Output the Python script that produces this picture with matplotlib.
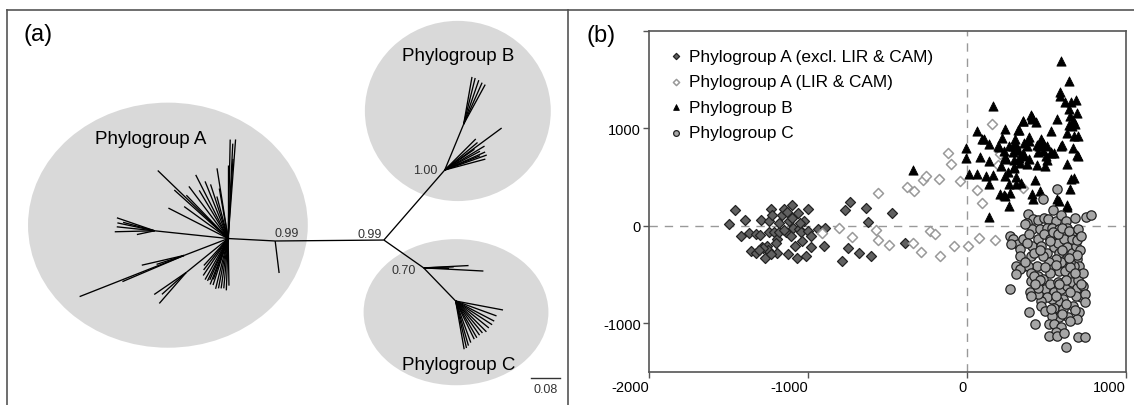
import numpy as np
import matplotlib
matplotlib.use("Agg")
import matplotlib.pyplot as plt
from matplotlib.collections import LineCollection
from matplotlib.lines import Line2D
from matplotlib.patches import Ellipse

plt.rcParams["font.family"] = ["Liberation Sans", "DejaVu Sans"]

# ---------------- panel (a): unrooted tree ----------------
# internal nodes: parent, branch angle (deg), branch length (subst./site)
NODE_NAME = ["a_stem", "A", "B", "B2", "C", "C2", "A_left", "A_dl1", "A_dl2"]
NODE_PARENT = ["root", "a_stem", "root", "B", "root", "C", "A", "A", "A"]
NODE_ANGLE = [180.5, 177, 49, 67.6, -35, -46, 174, 201, 219]
NODE_LEN = [0.30, 0.13, 0.256, 0.137, 0.134, 0.127, 0.204, 0.13, 0.149]

# terminal branches: parent node, angle, length
TIP_PARENT = (
    ["a_stem"]
    + ["A"] * 33
    + ["A_left"] * 6
    + ["A_dl1"] * 4
    + ["A_dl2"] * 3
    + ["B"] * 10
    + ["B2"] * 5
    + ["C"] * 4
    + ["C2"] * 14
)
TIP_ANGLE = (
    [-83]
    + [88.8, 85.7, 87.2, 90, 86.5,
       136, 138, 117, 112, 108, 99, 100, 153, 105, 121, 134, 127, 144,
       236, 240.7, 244, 248.6, 252, 256, 259, 262, 265, 268, 271, 250, 246, 232, 228]
    + [161, 168, 174, 181.4, 192, 165]
    + [201.5, 193, 203, 198]
    + [214.5, 229, 222]
    + [36.4, 31, 24, 19.6, 15, 45, 40, 28, 35, 22]
    + [80, 76, 71, 66, 61.4]
    + [3, -3, 2, -1]
    + [-10.7, -20, -27.5, -33, -39, -45, -50, -55, -60, -64, -70, -74, -77, -80]
)
TIP_LEN = (
    [0.089]
    + [0.273, 0.274, 0.262, 0.204, 0.22,
       0.27, 0.20, 0.197, 0.17, 0.157, 0.196, 0.14, 0.185, 0.12, 0.155, 0.166, 0.18, 0.15,
       0.123, 0.13, 0.13, 0.136, 0.135, 0.143, 0.14, 0.139, 0.138, 0.143, 0.13, 0.12, 0.125, 0.11, 0.10]
    + [0.11, 0.105, 0.105, 0.11, 0.05, 0.09]
    + [0.31, 0.12, 0.185, 0.08]
    + [0.107, 0.113, 0.09]
    + [0.195, 0.128, 0.122, 0.123, 0.116, 0.121, 0.118, 0.11, 0.10, 0.105]
    + [0.132, 0.131, 0.128, 0.125, 0.124]
    + [0.124, 0.165, 0.083, 0.07]
    + [0.133, 0.12, 0.12, 0.12, 0.118, 0.12, 0.115, 0.115, 0.117, 0.117, 0.122, 0.128, 0.133, 0.135]
)

SUPPORT_NODE = ["a_stem", "root", "B", "C"]
SUPPORT_VALUE = ["0.99", "0.99", "1.00", "0.70"]
SUPPORT_OFFSET = [(8.6, 6.1), (-10, 4.7), (-14, 0), (-14.7, -1.4)]

GROUP_NAME = ["Phylogroup A", "Phylogroup B", "Phylogroup C"]
GROUP_CENTER = [(-0.596, 0.041), (0.204, 0.356), (0.199, -0.199)]
GROUP_SIZE = [(0.772, 0.676), (0.513, 0.497), (0.510, 0.403)]
GROUP_LABEL_POS = [(-0.643, 0.279), (0.204, 0.510), (0.207, -0.342)]
SCALE_BAR = 0.08

# ---------------- panel (b): scatter ----------------
A_EXCL_X = [-1494, -1460, -1419, -1399, -1370, -1356, -1329, -1324, -1299, -1295, -1290, -1272,
            -1261, -1247, -1243, -1232, -1227, -1216, -1198, -1193, -1182, -1164, -1148, -1141,
            -1128, -1119, -1110, -1098, -1092, -1080, -1069, -1062, -1058, -1046, -1035, -1024,
            -1012, -1001, -997, -983, -979, -938, -900, -893, -768, -737, -748, -786, -682, -633,
            -622, -603, -470, -393, -1180, -1150, -1100, -1050, -1130, -1200, -1250, -1280,
            -1310, -1230]
A_EXCL_Y = [17, 164, -109, 62, -75, -256, -79, -274, -96, 58, -222, -335,
            -205, -58, 51, 178, 109, -68, -274, -137, -62, 109, 178, -68,
            -291, 51, -109, 212, -27, -205, -335, 137, -34, -68, -154, 51,
            -308, -51, 171, -109, -222, -34, -205, -17, 164, 250, -232, -359, -274, 188,
            41, -308, 137, -178, 30, -40, 80, 30, 140, -180, -250, -230,
            -250, -290]

A_LIR_X = [-914, -805, -723, -572, -562, -558, -491, -379, -333, -275, -258, -341, -291, -233,
           -201, -174, -170, -120, -102, -44, -82, 4, 76, 61, 96, 155, 176, 205, 195, 352]
A_LIR_Y = [-75, -24, -119, -41, -144, 336, -195, 400, 359, 472, 513, -181, -273, -51,
           -85, 479, -311, 752, 633, 456, -211, -208, -129, 370, 230, 1050, -147, 739, 623, 387]

B_X = [591, 640, 585, 588, 614, 654, 686, 643, 648, 690, 665, 564, 680, 640, 660, 528, 596, 673,
       700, 696, 665, 627, 673, 648, 577, 627, 161, 65, 95, 138, -8, -8, 82, 140, 15, 65, 120,
       162, 140, 138, -341, 239, 220, 201, 264, 241, 216, 239, 266, 235, 262, 306, 338, 321, 308,
       323, 291, 296, 296, 327, 354, 407, 432, 392, 375, 354, 388, 439, 464, 479, 481, 449, 495,
       530, 505, 442, 493, 430, 409, 459, 413, 502, 547, 526, 569, 631, 655, 389, 411, 405, 350,
       328, 359, 305, 287, 246, 260, 298, 310, 269, 242, 208, 332, 377, 359, 230, 192, 106, 631,
       592, 689, 452, 475]
B_Y = [1694, 1486, 1370, 1335, 1267, 1273, 1294, 1198, 1126, 1160, 1090, 1096, 1050, 1040, 1020,
       975, 829, 918, 920, 719, 795, 633, 490, 377, 257, 195, 1229, 972, 890, 839, 801, 698, 705,
       668, 528, 528, 513, 520, 428, 89, 572, 993, 903, 808, 815, 705, 610, 513, 428, 315, 205,
       428, 445, 979, 829, 781, 753, 674, 606, 692, 1078, 1113, 1068, 873, 821, 746, 685, 829,
       890, 829, 770, 753, 719, 753, 674, 623, 610, 472, 325, 359, 274, 821, 752, 745, 274, 212,
       479, 916, 1094, 1135, 1077, 985, 855, 889, 821, 691, 557, 598, 506, 342, 308, 325, 650,
       632, 718, 769, 821, 889, 957, 821, 725, 821, 848]

C_X = [563, 475, 542, 382, 418, 445, 486, 509, 558, 592, 622, 678, 750, 780, 377, 407, 457, 502,
       536, 581, 626, 660, 603, 269, 292, 321, 276, 332, 355, 389, 411, 400, 445, 468, 486, 502,
       524, 547, 570, 581, 608, 626, 637, 660, 683, 694, 705, 671, 649, 592, 558, 513, 475, 441,
       536, 581, 615, 660, 712, 310, 359, 382, 400, 445, 400, 475, 490, 524, 547, 570, 592, 626,
       660, 694, 728, 716, 683, 649, 603, 570, 536, 502, 468, 445, 396, 332, 271, 389, 463, 490,
       547, 603, 667, 705, 637, 694, 581, 536, 513, 547, 592, 558, 513, 563, 429, 622, 698, 739,
       445, 423, 310, 540, 570, 660, 694, 377, 423, 366, 332, 366,
       600, 640, 700, 720, 710, 690, 650, 620, 700, 730, 580, 560, 620, 680, 740, 600, 520, 490,
       460, 430, 400, 520, 460, 600, 640, 560, 680, 720, 740, 650, 610, 530]
C_Y = [383, 274, 164, 120, 68, 62, 85, 68, 51, 109, 51, 85, 96, 109, 27, -34, -34, -27,
       -17, -34, -17, -68, -68, -103, -137, -188, -188, -239, -137, -85, -205, -308, -137, -205,
       -85, -274, -137, -222, -171, -274, -137, -222, -308, -274, -205, -342, -410, -410, -376,
       -376, -342, -376, -308, -410, -444, -462, -462, -513, -496, -410, -410, -410, -479, -513,
       -564, -547, -650, -598, -684, -581, -650, -615, -581, -633, -615, -735, -718, -684, -752,
       -769, -752, -735, -769, -701, -684, -444, -650, -882, -821, -872, -838, -855, -821, -889,
       -940, -957, -940, -923, -1009, -1009, -1043, -1087, -1128, -1135, -1009, -1248, -1145,
       -1145, -633, -513, -496, -68, -85, -137, -144, -171, -274, 17, -308, -376,
       -20, -50, -30, -100, -250, -300, -420, -560, -560, -480, -600, -720, -800, -860, -700,
       -900, -480, -420, -560, -600, -720, -160, -250, -250, -330, -400, -480, -600, -780, -980,
       -1100, -850]

SERIES_LABELS = ["Phylogroup A (excl. LIR & CAM)", "Phylogroup A (LIR & CAM)",
                 "Phylogroup B", "Phylogroup C"]
X_TICKS = [-2000, -1000, 0, 1000]
Y_TICKS = [-1000, 0, 1000, 2000]
Y_TICK_LABELS = ["-1000", "0", "1000", ""]

W, H = 1134, 406
FRAME = "#555555"


def node_positions():
    pos = {"root": np.array([0.0, 0.0])}
    for name, parent, ang, length in zip(NODE_NAME, NODE_PARENT, NODE_ANGLE, NODE_LEN):
        a = np.radians(ang)
        pos[name] = pos[parent] + length * np.array([np.cos(a), np.sin(a)])
    return pos


def draw_tree(ax):
    pos = node_positions()
    for (cx, cy), (w, h) in zip(GROUP_CENTER, GROUP_SIZE):
        ax.add_patch(Ellipse((cx, cy), w, h, facecolor="#d9d9d9", edgecolor="none", zorder=0))
    segs = [[pos[p], pos[n]] for n, p in zip(NODE_NAME, NODE_PARENT)]
    for p, ang, length in zip(TIP_PARENT, TIP_ANGLE, TIP_LEN):
        a = np.radians(ang)
        segs.append([pos[p], pos[p] + length * np.array([np.cos(a), np.sin(a)])])
    ax.add_collection(LineCollection(segs, colors="black", linewidths=0.95, zorder=2))

    for node, val, off in zip(SUPPORT_NODE, SUPPORT_VALUE, SUPPORT_OFFSET):
        ax.annotate(val, pos[node], xytext=off, textcoords="offset points",
                    ha="center", va="center", fontsize=9, color="#333333", zorder=3)
    for name, (x, y) in zip(GROUP_NAME, GROUP_LABEL_POS):
        ax.text(x, y, name, ha="center", va="center", fontsize=13.5, zorder=3)

    # scale bar
    x0, y0 = 0.4055, -0.381
    ax.plot([x0, x0 + SCALE_BAR], [y0, y0], color="#333333", lw=1.0)
    ax.text(x0 + SCALE_BAR / 2, y0 - 0.012, f"{SCALE_BAR:.2f}", ha="center", va="top",
            fontsize=9, color="#333333")

    ax.set_xlim(-1.040, 0.508)
    ax.set_ylim(-0.455, 0.6345)
    ax.set_xticks([])
    ax.set_yticks([])
    for side in ("left", "top", "right"):
        ax.spines[side].set_color(FRAME)
        ax.spines[side].set_linewidth(1.2)
    ax.spines["bottom"].set_visible(False)


def draw_scatter(ax):
    ax.axvline(0, color="#999999", lw=1.0, ls=(0, (6, 5)), zorder=0)
    ax.axhline(0, color="#999999", lw=1.0, ls=(0, (6, 5)), zorder=0)
    ax.scatter(A_EXCL_X, A_EXCL_Y, marker="D", s=26, facecolor="#606060",
               edgecolor="#222222", linewidths=0.9, label=SERIES_LABELS[0], zorder=2)
    ax.scatter(A_LIR_X, A_LIR_Y, marker="D", s=26, facecolor="white",
               edgecolor="#999999", linewidths=1.1, label=SERIES_LABELS[1], zorder=2)
    ax.scatter(B_X, B_Y, marker="^", s=44, facecolor="black",
               edgecolor="black", linewidths=0.6, label=SERIES_LABELS[2], zorder=3)
    ax.scatter(C_X, C_Y, marker="o", s=45, facecolor="#a6a6a6",
               edgecolor="#222222", linewidths=0.9, label=SERIES_LABELS[3], zorder=4)

    ax.set_xlim(-2000, 1000)
    ax.set_ylim(-1500, 2000)
    ax.set_xticks(X_TICKS)
    ax.set_xticklabels([str(t) for t in X_TICKS], ha="right")
    ax.set_yticks(Y_TICKS)
    ax.set_yticklabels(Y_TICK_LABELS)
    ax.tick_params(direction="out", length=4, width=1.0, color=FRAME,
                   labelsize=10.5, pad=2)
    for sp in ax.spines.values():
        sp.set_color(FRAME)
        sp.set_linewidth(1.2)

    ax.legend(loc="upper left", bbox_to_anchor=(0.029, 0.968), frameon=False,
              fontsize=12.4, markerscale=0.62, handlelength=0.75, handletextpad=0.35,
              labelspacing=0.6, borderaxespad=0)


def main():
    fig = plt.figure(figsize=(W / 100, H / 100), dpi=100)
    fig.patch.set_facecolor("white")

    ax_a = fig.add_axes([7 / W, 0, 561 / W, 395 / H])
    draw_tree(ax_a)
    ax_b = fig.add_axes([649 / W, 1 - 373 / H, 477 / W, 341 / H])
    draw_scatter(ax_b)

    fig.add_artist(Line2D([568 / W, 1], [1 - 11 / H, 1 - 11 / H],
                          transform=fig.transFigure, color=FRAME, lw=1.2))
    fig.text(38 / W, 1 - 35 / H, "(a)", ha="center", va="center", fontsize=17)
    fig.text(601 / W, 1 - 36 / H, "(b)", ha="center", va="center", fontsize=17)

    fig.savefig("out.png", dpi=100)


if __name__ == "__main__":
    main()
